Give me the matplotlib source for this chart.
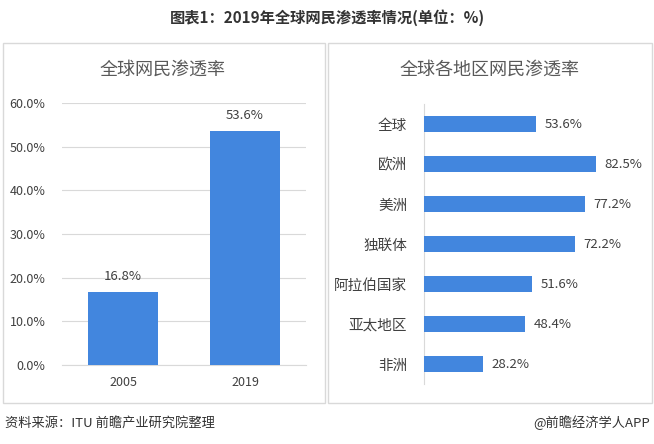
import matplotlib.pyplot as plt
from matplotlib.patches import Rectangle
from matplotlib.ticker import FuncFormatter

plt.rcParams['font.family'] = ['Noto Sans CJK SC', 'DejaVu Sans']

years = ['2005', '2019']
global_rate = [16.8, 53.6]

regions = ['全球', '欧洲', '美洲', '独联体', '阿拉伯国家', '亚太地区', '非洲']
region_rate = [53.6, 82.5, 77.2, 72.2, 51.6, 48.4, 28.2]

BLUE = '#4286DE'
TEXT = '#404040'
W, H = 654, 444

fig = plt.figure(figsize=(W / 100, H / 100), dpi=100)
fig.patch.set_facecolor('white')


def box(x0, y0, x1, y1):
    """Rect in pixel coords (top-left origin) -> figure fraction."""
    return [x0 / W, 1 - y1 / H, (x1 - x0) / W, (y1 - y0) / H]


# panel frames
for x0, x1 in [(3, 325), (328, 652)]:
    fig.patches.append(Rectangle((x0 / W, 1 - 403 / H), (x1 - x0) / W, 360 / H,
                                 transform=fig.transFigure, fill=False,
                                 edgecolor='#d9d9d9', linewidth=1))

fig.text(0.5, 1 - 18 / H, '图表1：2019年全球网民渗透率情况(单位：%)', ha='center', va='center',
         fontsize=11, fontweight='bold', color='#333333')
fig.text(163 / W, 1 - 70 / H, '全球网民渗透率', ha='center', va='center', fontsize=13, color='#595959')
fig.text(490 / W, 1 - 70 / H, '全球各地区网民渗透率', ha='center', va='center', fontsize=13, color='#595959')

# left: global penetration
ax1 = fig.add_axes(box(62, 103, 306, 365))
ax1.bar(range(len(years)), global_rate, width=0.57, color=BLUE, zorder=3)
ax1.set_xlim(-0.5, 1.5)
ax1.set_ylim(0, 60)
ax1.set_yticks(range(0, 61, 10))
ax1.yaxis.set_major_formatter(FuncFormatter(lambda v, p: f'{v:.1f}%'))
ax1.set_xticks(range(len(years)))
ax1.set_xticklabels(years)
ax1.grid(axis='y', color='#d9d9d9', linewidth=0.8, zorder=0)
for s in ['top', 'right', 'left']:
    ax1.spines[s].set_visible(False)
ax1.spines['bottom'].set_color('#d9d9d9')
ax1.tick_params(length=0, labelsize=9, colors=TEXT)
ax1.tick_params(axis='y', pad=12)
ax1.tick_params(axis='x', pad=8)
for i, v in enumerate(global_rate):
    ax1.text(i, v + 2, f'{v:.1f}%', ha='center', va='bottom', fontsize=9.5, color=TEXT)

# right: regional penetration
ax2 = fig.add_axes(box(424, 104, 633, 384))
ypos = range(len(regions))
ax2.barh(ypos, region_rate, height=0.4, color=BLUE, zorder=3)
ax2.set_ylim(len(regions) - 0.5, -0.5)
ax2.set_xlim(0, 100)
ax2.set_yticks(list(ypos))
ax2.set_yticklabels(regions)
ax2.set_xticks([])
for s in ['top', 'right', 'bottom']:
    ax2.spines[s].set_visible(False)
ax2.spines['left'].set_color('#d9d9d9')
ax2.tick_params(length=0, labelsize=10.5, colors=TEXT, pad=12)
for i, v in enumerate(region_rate):
    ax2.text(v + 4, i, f'{v:.1f}%', ha='left', va='center', fontsize=9.5, color=TEXT)

fig.text(5 / W, 1 - 423 / H, '资料来源：ITU 前瞻产业研究院整理', ha='left', va='center',
         fontsize=9.5, color='#333333')
fig.text(650 / W, 1 - 423 / H, '@前瞻经济学人APP', ha='right', va='center',
         fontsize=9.5, color='#333333')

fig.savefig('out.png', dpi=100)
